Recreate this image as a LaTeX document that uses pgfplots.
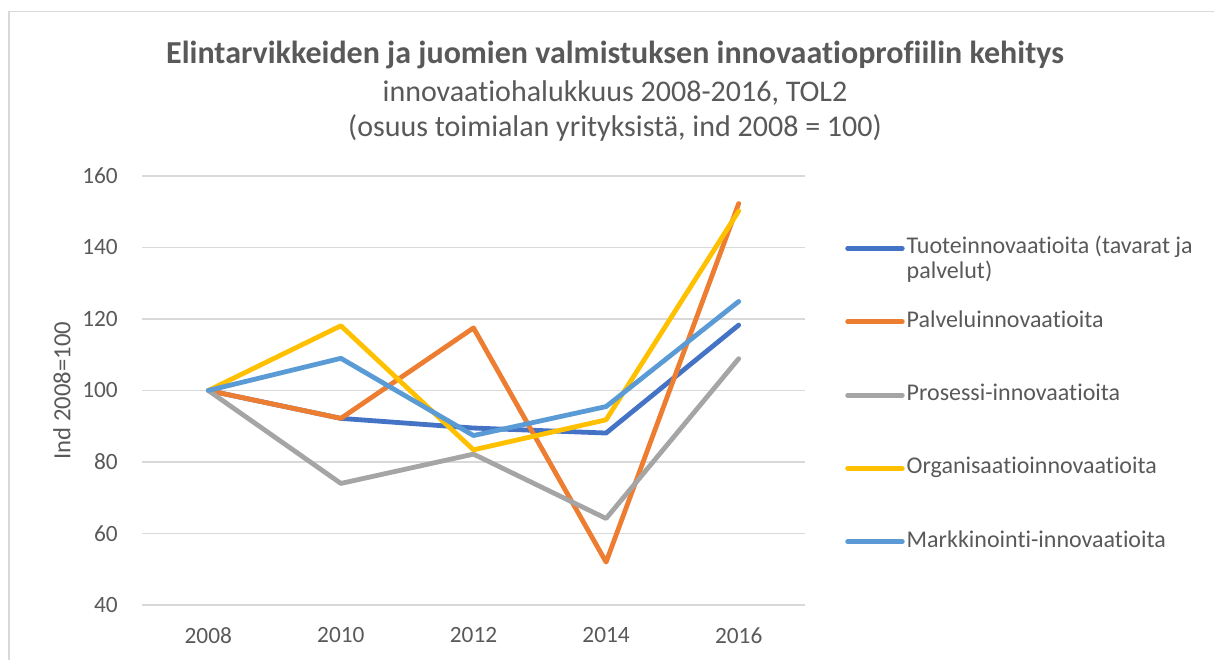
\documentclass[border=0pt]{standalone}
\usepackage{fontspec}
\setmainfont{Carlito}[Ligatures=NoCommon]
\usepackage{pgfplots}
\pgfplotsset{compat=1.18}
\definecolor{cA}{HTML}{4472C4}
\definecolor{cB}{HTML}{ED7D31}
\definecolor{cC}{HTML}{A5A5A5}
\definecolor{cD}{HTML}{FFC000}
\definecolor{cE}{HTML}{5B9BD5}
\definecolor{txt}{HTML}{595959}
\definecolor{grd}{HTML}{D9D9D9}
\begin{document}
\begin{tikzpicture}[x=0.75pt,y=0.75pt]
\path[use as bounding box] (0,0) rectangle (1214,660);
\draw[grd,line width=1.2pt] (9,-10) -- (9,648.5) -- (1230,648.5);
\node[text=txt,font=\bfseries\fontsize{24}{28}\selectfont] at (615,605) {Elintarvikkeiden ja juomien valmistuksen innovaatioprofiilin kehitys};
\node[text=txt,font=\fontsize{22.5}{26}\selectfont] at (615,567) {innovaatiohalukkuus 2008-2016, TOL2};
\node[text=txt,font=\fontsize{22.5}{26}\selectfont] at (615,532) {(osuus toimialan yrityksistä, ind 2008 = 100)};
\begin{axis}[
  at={(106.5pt,41.25pt)}, anchor=south west,
  scale only axis, width=497.25pt, height=321.75pt,
  xmin=-0.5, xmax=4.5, ymin=40, ymax=160,
  xtick={0,1,2,3,4}, xticklabels={2008,2010,2012,2014,2016},
  ytick={40,60,...,160},
  ymajorgrids, grid style={grd,line width=1.2pt},
  axis line style={draw=none}, tick style={draw=none},
  major tick length=0pt,
  ticklabel style={text=txt,font=\fontsize{17.5}{21}\selectfont},
  /pgf/number format/assume math mode=true,
  yticklabel style={anchor=east,inner sep=0pt,xshift=-18pt},
  xticklabel style={anchor=north,inner sep=0pt,yshift=-16.5pt},
  ylabel={Ind 2008=100},
  every axis y label/.style={at={(axis description cs:-0.1207,0.5)},rotate=90,anchor=center,text=txt,font=\fontsize{18.5}{22}\selectfont},
  every axis plot/.append style={line width=3.6pt,line join=round,line cap=round},
  legend image code/.code={\draw[#1] (0pt,0pt) -- (41pt,0pt);},
  legend cell align=left,
  legend style={at={(axis description cs:1.0603,0.8566)},anchor=north west,draw=none,fill=none,inner sep=0pt,
    row sep=39pt, column sep=1.5pt,
    nodes={inner sep=0pt,text height=12pt,text depth=4pt,text=txt,font=\fontsize{18}{18.75}\selectfont}},
]
\addplot[cA] coordinates {(0,100) (1,92.2) (2,89.5) (3,88.1) (4,118.3)};
\addlegendentry{\raisebox{0pt}[\height][0pt]{\begin{tabular}[t]{@{}l@{}}Tuoteinnovaatioita (tavarat ja\\palvelut)\end{tabular}}}
\addplot[cB] coordinates {(0,100) (1,92.2) (2,117.5) (3,52.0) (4,152.3)};
\addlegendentry{Palveluinnovaatioita}
\addplot[cC] coordinates {(0,100) (1,74.0) (2,82.2) (3,64.2) (4,108.9)};
\addlegendentry{Prosessi-innovaatioita}
\addplot[cD] coordinates {(0,100) (1,118.1) (2,83.4) (3,91.8) (4,150.2)};
\addlegendentry{Organisaatioinnovaatioita}
\addplot[cE] coordinates {(0,100) (1,109.0) (2,87.4) (3,95.5) (4,124.9)};
\addlegendentry{Markkinointi-innovaatioita}
\end{axis}
\end{tikzpicture}
\end{document}
